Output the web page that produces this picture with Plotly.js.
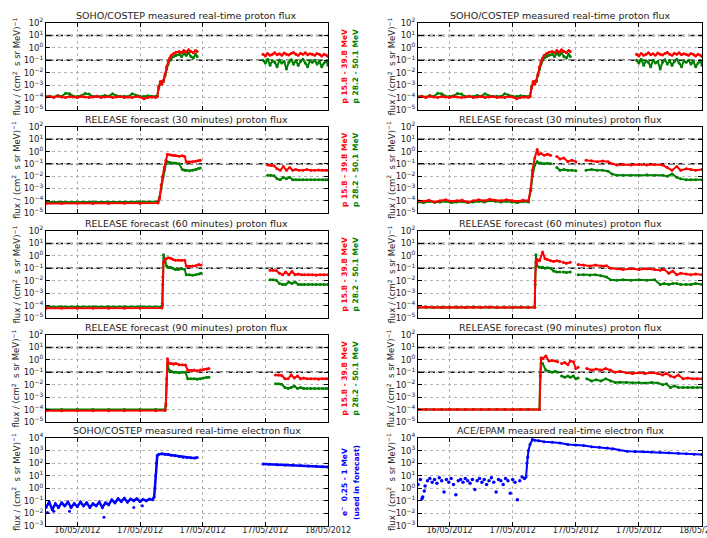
<!DOCTYPE html>
<html>
<head>
<meta charset="utf-8">
<script src="https://cdn.plot.ly/plotly-3.0.1.min.js"></script>
<style>html,body{margin:0;padding:0;background:#fff;}#chart{width:707px;height:538px;}</style>
</head>
<body>
<div id="chart"></div>
<script>
// ---------------- DATA (time in hours after 16/05/2012 12:00 UT) ----------------
const titles = [
  "SOHO/COSTEP measured real-time proton flux", "SOHO/COSTEP measured real-time proton flux",
  "RELEASE forecast (30 minutes) proton flux", "RELEASE forecast (30 minutes) proton flux",
  "RELEASE forecast (60 minutes) proton flux", "RELEASE forecast (60 minutes) proton flux",
  "RELEASE forecast (90 minutes) proton flux", "RELEASE forecast (90 minutes) proton flux",
  "SOHO/COSTEP measured real-time electron flux", "ACE/EPAM measured real-time electron flux"
];
const xTickVals = ["2012-05-16 16:00", "2012-05-17 00:00", "2012-05-17 08:00", "2012-05-17 16:00", "2012-05-18 00:00"];
const xTickText = ["16/05/2012", "17/05/2012", "17/05/2012", "17/05/2012", "18/05/2012"];
const xRange = ["2012-05-16 12:00", "2012-05-18 00:00"];
const protonTicks = [1e-5, 1e-4, 1e-3, 1e-2, 1e-1, 1, 10, 100];
const protonTickText = ["10<sup>−5</sup>","10<sup>−4</sup>","10<sup>−3</sup>","10<sup>−2</sup>","10<sup>−1</sup>","10<sup>0</sup>","10<sup>1</sup>","10<sup>2</sup>"];
const electronTicks = [1e-3, 1e-2, 1e-1, 1, 10, 100, 1000, 10000];
const electronTickText = ["10<sup>−3</sup>","10<sup>−2</sup>","10<sup>−1</sup>","10<sup>0</sup>","10<sup>1</sup>","10<sup>2</sup>","10<sup>3</sup>","10<sup>4</sup>"];
const thresholds = [10, 0.1];
const redLabel = "p 15.8 - 39.8 MeV";
const greenLabel = "p 28.2 - 50.1 MeV";
const blueLabel1 = "e<sup>−</sup>  0.25 - 1 MeV";
const blueLabel2 = "(used in forecast)";

// SOHO/COSTEP measured protons
const sohoPT = [0,0.5,1,1.5,2,2.5,3,3.5,4,4.5,5,5.5,6,6.5,7,7.5,8,8.5,9,9.5,10,10.5,11,11.5,12,12.5,13,13.5,14,
  14.2,14.4,14.6,14.8,15.0,15.2,15.4,15.6,15.8,16.0,16.3,16.6,17.0,17.3,17.6,17.9,18.2,18.5,18.8,19.1,19.3,
  23,
  27.7,28.0,28.3,28.6,28.9,29.2,29.5,29.8,30.1,30.4,30.7,31.0,31.3,31.6,31.9,32.2,32.5,32.8,33.1,33.4,33.7,34.0,34.3,34.6,34.9,35.2,35.5,35.8,36.0];
const sohoRed = [1.1e-4,1.2e-4,1.0e-4,1.3e-4,1.1e-4,1.0e-4,1.2e-4,1.1e-4,1.0e-4,1.2e-4,1.1e-4,1.0e-4,1.1e-4,1.3e-4,1.0e-4,1.1e-4,1.2e-4,1.0e-4,1.1e-4,1.2e-4,1.0e-4,1.1e-4,1.0e-4,1.2e-4,1.1e-4,0.8e-4,1.0e-4,1.1e-4,1.0e-4,
  1.2e-4,6e-4,2e-3,1.2e-3,2.5e-3,8e-3,0.03,0.08,0.15,0.25,0.35,0.45,0.5,0.4,0.6,0.45,0.7,0.5,0.4,0.6,0.5,
  null,
  0.3,0.22,0.35,0.25,0.3,0.4,0.28,0.33,0.25,0.38,0.3,0.27,0.35,0.42,0.3,0.25,0.36,0.3,0.4,0.28,0.33,0.3,0.25,0.35,0.3,0.22,0.3,0.26,0.2];
const sohoGreen = [1.2e-4,1.3e-4,1.1e-4,1.5e-4,1.2e-4,2.2e-4,2.0e-4,1.3e-4,1.2e-4,1.4e-4,2.1e-4,1.9e-4,1.2e-4,1.3e-4,1.2e-4,1.5e-4,1.3e-4,2.0e-4,1.4e-4,1.2e-4,1.3e-4,1.2e-4,2.0e-4,1.5e-4,1.3e-4,1.2e-4,1.4e-4,1.3e-4,1.2e-4,
  1.3e-4,8e-4,1.5e-3,2e-3,2e-3,6e-3,0.02,0.05,0.1,0.15,0.2,0.25,0.3,0.2,0.35,0.25,0.4,0.2,0.15,0.3,0.2,
  null,
  0.1,0.06,0.12,0.04,0.09,0.07,0.03,0.1,0.06,0.08,0.02,0.07,0.11,0.05,0.09,0.04,0.08,0.12,0.06,0.03,0.09,0.07,0.1,0.05,0.08,0.03,0.06,0.09,0.04];

// RELEASE 30 min, left
const rel30LT = [0,2,4,6,8,10,12,14.3,
  14.5,14.7,14.9,15.1,15.3,15.5,15.8,16.1,16.4,16.6,17.0,17.4,17.7,17.9,18.3,18.7,19.1,19.4,19.7,
  24,
  28.3,28.7,29.1,29.5,29.9,30.3,30.7,31.1,31.5,31.9,32.3,32.8,33.3,33.8,34.3,34.8,35.3,35.7,36.0];
const rel30LRed = [6e-5,6e-5,6.2e-5,6e-5,6e-5,6.1e-5,6e-5,6.5e-5,
  1.5e-4,2e-3,1e-2,0.05,0.2,0.6,0.55,0.5,0.48,0.45,0.42,0.45,0.4,0.15,0.14,0.15,0.16,0.18,0.2,
  null,
  0.08,0.075,0.07,0.04,0.03,0.06,0.03,0.05,0.03,0.035,0.03,0.03,0.035,0.03,0.03,0.032,0.03,0.03,0.03];
const rel30LGreen = [8e-5,7.8e-5,8e-5,8.2e-5,8e-5,8e-5,8.3e-5,8.5e-5,
  2e-4,1e-3,8e-3,0.03,0.1,0.15,0.13,0.12,0.12,0.11,0.1,0.035,0.03,0.03,0.028,0.03,0.035,0.04,0.045,
  null,
  0.012,0.012,0.011,0.006,0.005,0.008,0.006,0.008,0.005,0.005,0.005,0.005,0.005,0.005,0.005,0.005,0.005,0.005,0.005];

// RELEASE 30 min, right
const rel30RT = [0,0.7,1.4,2.1,2.8,3.5,4.2,4.9,5.6,6.3,7.0,7.7,8.4,9.1,9.8,10.5,11.2,11.9,12.6,13.3,14.0,
  14.3,14.5,14.8,15.1,15.3,15.6,16.0,16.4,16.8,
  17.2,
  17.6,18.0,18.5,19.0,19.5,20.0,
  20.7,
  21.3,22.0,22.7,23.4,24.1,24.6,25.2,26.0,27.0,28.0,29.0,30.0,31.0,31.6,32.2,32.8,33.3,34.0,34.6,35.2,36.0];
const rel30RRed = [1e-4,9e-5,1.1e-4,8e-5,1e-4,1.2e-4,9e-5,1e-4,1.1e-4,8e-5,1e-4,1.2e-4,1e-4,1.3e-4,1.1e-4,1e-4,1.2e-4,1e-4,9e-5,1.1e-4,1e-4,
  1e-3,0.03,0.3,1.5,0.6,0.7,0.5,0.6,0.5,
  null,
  0.4,0.25,0.3,0.15,0.2,0.15,
  null,
  0.2,0.18,0.15,0.17,0.15,0.1,0.08,0.09,0.08,0.09,0.08,0.09,0.08,0.05,0.03,0.06,0.03,0.04,0.035,0.03,0.035];
const rel30RGreen = [8e-5,7e-5,8.5e-5,7.5e-5,8e-5,9e-5,7e-5,8e-5,8.5e-5,7e-5,8e-5,9e-5,8e-5,1e-4,9e-5,8e-5,9e-5,8e-5,7e-5,8.5e-5,8e-5,
  7e-4,0.01,0.08,0.15,0.12,0.12,0.1,0.11,0.1,
  null,
  0.05,0.03,0.035,0.03,0.03,0.028,
  null,
  0.03,0.035,0.03,0.03,0.025,0.015,0.012,0.012,0.012,0.012,0.013,0.012,0.012,0.01,0.015,0.008,0.006,0.005,0.005,0.005,0.005];

// RELEASE 60 min, left
const rel60LT = [0,2,4,6,8,10,12,14.8,
  14.85,14.9,15.0,15.2,15.4,15.6,15.9,16.2,16.5,16.9,17.3,17.7,17.9,18.3,18.7,19.1,19.5,19.8,
  24,
  28.6,29.0,29.4,29.8,30.2,30.6,31.0,31.4,31.8,32.2,32.6,33.0,33.5,34.0,34.5,35.0,35.5,36.0];
const rel60LRed = [6e-5,6.1e-5,6e-5,6e-5,6.2e-5,6e-5,6e-5,6.3e-5,
  1.5e-4,0.02,0.3,0.5,0.6,0.7,0.65,0.5,0.45,0.45,0.42,0.45,0.15,0.14,0.15,0.16,0.2,0.18,
  null,
  0.07,0.07,0.065,0.04,0.03,0.05,0.03,0.055,0.03,0.035,0.03,0.03,0.03,0.03,0.028,0.03,0.03,0.03];
const rel60LGreen = [8e-5,8e-5,8.2e-5,8e-5,8e-5,8.1e-5,8e-5,8.5e-5,
  1e-4,5e-3,1.2,0.4,0.15,0.12,0.12,0.1,0.08,0.08,0.09,0.08,0.03,0.03,0.028,0.03,0.035,0.04,
  null,
  0.012,0.012,0.011,0.006,0.005,0.005,0.008,0.006,0.008,0.005,0.005,0.005,0.005,0.005,0.005,0.005,0.005,0.005];

// RELEASE 60 min, right
const rel60RT = [0,1,2,3,4,5,6,7,8,9,10,11,12,13,14,14.8,
  14.85,14.95,15.1,15.4,15.8,16.1,16.4,16.8,17.2,17.6,18.0,
  18.2,
  18.4,18.8,19.3,
  19.8,
  20.3,21.0,21.8,22.5,23.2,23.9,24.4,25.2,26.0,27.0,28.0,29.0,30.0,30.7,31.2,31.8,32.3,32.8,33.3,34.0,34.6,35.2,36.0];
const rel60RRed = [7e-5,7.5e-5,7e-5,7.2e-5,7e-5,7.5e-5,7e-5,7.3e-5,7e-5,7.5e-5,7e-5,7.2e-5,7e-5,7.5e-5,7e-5,7.2e-5,
  0.01,0.3,0.5,0.4,2,0.6,0.5,0.4,0.35,0.4,0.35,
  null,
  0.3,0.25,0.3,
  null,
  0.2,0.18,0.15,0.18,0.15,0.16,0.1,0.09,0.08,0.09,0.08,0.09,0.08,0.07,0.08,0.04,0.06,0.03,0.04,0.035,0.03,0.035,0.03];
const rel60RGreen = [7e-5,7.2e-5,7e-5,7.4e-5,7e-5,7.2e-5,7e-5,7.5e-5,7e-5,7.2e-5,7e-5,7.4e-5,7e-5,7.2e-5,7e-5,7.3e-5,
  0.005,1.2,0.15,0.12,0.12,0.1,0.11,0.1,0.06,0.05,0.05,
  null,
  0.05,0.045,0.05,
  null,
  0.03,0.03,0.028,0.03,0.025,0.02,0.012,0.011,0.012,0.011,0.012,0.011,0.012,0.005,0.006,0.005,0.006,0.006,0.005,0.005,0.005,0.006,0.005];

// RELEASE 90 min, left
const rel90LT = [0,2,4,6,8,10,12,14,15.2,
  15.3,15.4,15.5,15.7,16.0,16.3,16.6,17.0,17.4,17.8,18.1,18.5,18.9,19.3,19.7,20.1,20.5,20.8,
  25,
  29.3,29.7,30.1,30.5,30.9,31.3,31.7,32.1,32.5,32.9,33.3,33.8,34.3,34.8,35.3,35.7,36.0];
const rel90LRed = [8e-5,8e-5,8.1e-5,8e-5,8e-5,8.2e-5,8e-5,8e-5,8.3e-5,
  3e-4,0.01,1.2,0.5,0.5,0.45,0.5,0.4,0.4,0.38,0.15,0.14,0.15,0.13,0.15,0.16,0.18,0.2,
  null,
  0.06,0.06,0.055,0.03,0.03,0.06,0.035,0.05,0.03,0.035,0.03,0.03,0.03,0.028,0.03,0.03,0.03];
const rel90LGreen = [1e-4,1e-4,1.02e-4,1e-4,1e-4,1.01e-4,1e-4,1e-4,1.05e-4,
  2e-4,0.03,0.5,0.15,0.12,0.1,0.1,0.09,0.1,0.1,0.03,0.03,0.03,0.028,0.03,0.035,0.04,0.04,
  null,
  0.012,0.012,0.011,0.006,0.005,0.006,0.008,0.005,0.006,0.005,0.005,0.005,0.005,0.005,0.005,0.005,0.005];

// RELEASE 90 min, right
const rel90RT = [0,1,2,3,4,5,6,7,8,9,10,11,12,13,14,15.4,
  15.5,15.6,15.8,16.2,16.6,17.0,17.4,17.7,
  17.95,
  18.2,18.6,19.0,19.3,19.7,20.0,20.3,
  20.8,
  21.4,22.0,22.6,23.2,23.8,24.4,25.0,25.6,26.4,27.2,28.0,28.8,29.6,30.4,31.0,31.5,32.0,32.5,33.0,33.6,34.2,34.8,35.4,36.0];
const rel90RRed = [1e-4,1.05e-4,1e-4,1e-4,1.05e-4,1e-4,1e-4,1.05e-4,1e-4,1e-4,1.05e-4,1e-4,1e-4,1.05e-4,1e-4,1e-4,
  0.05,1.5,1.2,2,0.8,0.9,0.8,0.7,
  null,
  0.5,0.6,0.4,0.8,0.7,0.2,0.25,
  null,
  0.2,0.15,0.18,0.15,0.2,0.15,0.1,0.12,0.09,0.08,0.09,0.08,0.09,0.08,0.06,0.08,0.05,0.04,0.06,0.03,0.035,0.03,0.03,0.03];
const rel90RGreen = [1e-4,1e-4,1.03e-4,1e-4,1e-4,1.03e-4,1e-4,1e-4,1.03e-4,1e-4,1e-4,1.03e-4,1e-4,1e-4,1.03e-4,1e-4,
  0.1,0.5,0.5,0.15,0.12,0.1,0.12,0.1,
  null,
  0.05,0.04,0.05,0.04,0.05,0.03,0.035,
  null,
  0.03,0.02,0.025,0.02,0.03,0.02,0.015,0.016,0.015,0.014,0.015,0.014,0.015,0.014,0.01,0.012,0.006,0.008,0.006,0.006,0.006,0.006,0.006,0.006];

// SOHO/COSTEP measured electrons
const sohoET = [0,0.4,0.8,1.2,1.6,2.0,2.4,2.8,3.2,3.6,4.0,4.4,4.8,5.2,5.6,6.0,6.4,6.8,7.2,7.6,8.0,8.4,8.8,9.2,9.6,10.0,10.4,10.8,11.2,11.6,12.0,12.4,12.8,13.2,13.6,
  13.8,13.9,14.0,14.1,14.2,14.4,14.8,15.2,15.6,16.0,16.5,17.0,17.5,18.0,18.5,19.0,19.3,
  23,
  27.7,28.5,29.5,30.5,31.5,32.5,33.5,34.5,35.3,36.0];
const sohoE = [0.03,0.08,0.02,0.06,0.03,0.07,0.04,0.08,0.03,0.06,0.035,0.08,0.04,0.07,0.03,0.06,0.04,0.08,0.03,0.07,0.05,0.12,0.07,0.15,0.09,0.16,0.08,0.14,0.1,0.15,0.09,0.13,0.1,0.14,0.12,
  0.2,1,10,100,400,500,560,520,480,420,380,330,300,280,270,260,280,
  null,
  85,80,76,72,70,65,60,56,52,50];
const sohoEOutT = [0.2,1.0,3.0,7.4,11.2,12.3];
const sohoEOut = [0.012,0.015,0.015,0.005,0.03,0.04];

// ACE/EPAM measured electrons
const aceQT = [0,0.3,0.6,0.9,1.2,1.5,1.8,2.1,2.4,2.7,3.0,3.3,3.6,3.9,4.2,4.5,4.8,5.1,5.4,5.7,6.0,6.3,6.6,6.9,7.2,7.5,7.8,8.1,8.4,8.7,9.0,9.3,9.6,9.9,10.2,10.5,10.8,11.1,11.4,11.7,12.0,12.3,12.6,12.9,13.2,13.5,0.5,0.8];
const aceQ = [2,5,0.2,1.5,4,6,3,5,2.5,7,4,0.5,5,3,6,2,0.3,4,5,3,6,4,2.5,5,0.8,4,6,3,5,2,4,7,3,0.5,5,4,2,6,4,0.4,5,3,0.12,4,8,6,0.15,0.6];
const aceET = [13.7,13.8,13.9,14.0,14.2,14.5,14.8,15.3,16.0,17.0,18.0,19.0,20.0,21.0,22.0,23.0,24.0,24.7,25.5,26.5,27.5,28.6,29.6,30.7,31.8,33.0,34.0,35.0,36.0];
const aceE = [8,100,300,1000,3000,7500,6500,6000,5000,4500,4000,3000,2800,2500,2000,1800,1600,1400,1100,900,850,800,760,730,680,620,570,520,480];

// ---------------- BUILD ----------------
const T0 = Date.UTC(2012, 4, 16, 12, 0, 0);
function toDates(hours) {
  return hours.map(h => new Date(T0 + h * 3600e3).toISOString().replace('T', ' ').replace('Z', ''));
}
const W = 707, H = 538;
const rowTop = [23, 127, 231, 335, 438];
const rowBot = [110, 213, 318, 422, 526];
const colLeft = [46, 418];
const colRight = [328, 702];
const RED = '#ff0000', GREEN = '#008000', BLUE = '#0000ff';
const FONT = 'DejaVu Sans, Liberation Sans, sans-serif';
const TXT = '#222';

const panels = [
  {t: sohoPT, r: sohoRed, g: sohoGreen},
  {t: sohoPT, r: sohoRed, g: sohoGreen},
  {t: rel30LT, r: rel30LRed, g: rel30LGreen},
  {t: rel30RT, r: rel30RRed, g: rel30RGreen},
  {t: rel60LT, r: rel60LRed, g: rel60LGreen},
  {t: rel60RT, r: rel60RRed, g: rel60RGreen},
  {t: rel90LT, r: rel90LRed, g: rel90LGreen},
  {t: rel90RT, r: rel90RRed, g: rel90RGreen},
  {electron: 'soho'},
  {electron: 'ace'}
];

const data = [];
const layout = {
  width: W, height: H,
  margin: {l: 0, r: 0, t: 0, b: 0},
  paper_bgcolor: '#fff', plot_bgcolor: '#fff',
  showlegend: false,
  font: {family: FONT, color: TXT, size: 9},
  annotations: [], shapes: []
};

function lineTrace(x, y, color, n, mode, width) {
  return {
    type: 'scatter', mode: mode || 'lines+markers', x: toDates(x), y: y,
    xaxis: 'x' + n, yaxis: 'y' + n, connectgaps: false,
    line: {color: color, width: width || 2}, marker: {color: color, size: 3},
    hoverinfo: 'skip'
  };
}

panels.forEach((p, i) => {
  const n = i + 1;
  const row = Math.floor(i / 2), col = i % 2;
  const isE = !!p.electron;
  const xd = [colLeft[col] / W, colRight[col] / W];
  const yd = [1 - rowBot[row] / H, 1 - rowTop[row] / H];
  layout['xaxis' + (n === 1 ? '' : n)] = {
    domain: xd, anchor: 'y' + n, type: 'date', range: xRange,
    tickmode: 'array', tickvals: xTickVals, ticktext: xTickText,
    showticklabels: row === 4, tickfont: {size: 8, color: TXT, family: FONT},
    ticklabeloverflow: 'allow', ticklabelstandoff: -4,
    ticks: 'inside', ticklen: 4, tickcolor: '#000', mirror: 'allticks',
    showline: true, linecolor: '#000', linewidth: 1,
    showgrid: true, gridcolor: '#b4b4b4', griddash: 'dot', gridwidth: 1,
    zeroline: false, fixedrange: true
  };
  layout['yaxis' + (n === 1 ? '' : n)] = {
    domain: yd, anchor: 'x' + n, type: 'log',
    range: isE ? [-3, 4] : [-5, 2],
    tickmode: 'array', tickvals: isE ? electronTicks : protonTicks,
    ticktext: isE ? electronTickText : protonTickText,
    tickfont: {size: 8.5, color: TXT, family: FONT},
    ticks: 'inside', ticklen: 4, tickcolor: '#000', mirror: 'allticks',
    showline: true, linecolor: '#000', linewidth: 1,
    showgrid: true, gridcolor: '#b4b4b4', griddash: 'dot', gridwidth: 1,
    zeroline: false, fixedrange: true
  };
  layout.annotations.push({
    text: titles[i], xref: 'paper', yref: 'paper',
    x: (xd[0] + xd[1]) / 2, y: yd[1], xanchor: 'center', yanchor: 'bottom', yshift: 0,
    showarrow: false, font: {size: 9.5, color: TXT, family: FONT}
  });
  layout.annotations.push({
    text: 'flux / (cm<sup>2</sup>  s sr MeV)<sup>−1</sup>', xref: 'paper', yref: 'paper',
    x: (col === 0 ? 16 : 391) / W, y: (yd[0] + yd[1]) / 2, xanchor: 'center', yanchor: 'middle',
    textangle: -90, showarrow: false, font: {size: 8.5, color: TXT, family: FONT}
  });

  if (!isE) {
    thresholds.forEach(v => {
      layout.shapes.push({
        type: 'line', xref: 'x' + n + ' domain', x0: 0, x1: 1, yref: 'y' + n, y0: v, y1: v,
        line: {color: '#111', width: 1.5, dash: '7px,3px'}, layer: 'below'
      });
    });
    data.push(lineTrace(p.t, p.g, GREEN, n));
    data.push(lineTrace(p.t, p.r, RED, n));
    if (col === 0) {
      layout.annotations.push({
        text: '<b>' + redLabel + '</b>', xref: 'paper', yref: 'paper',
        x: 344 / W, y: (yd[0] + yd[1]) / 2, xanchor: 'center', yanchor: 'middle',
        textangle: -90, showarrow: false, font: {size: 7.5, color: RED, family: FONT}
      });
      layout.annotations.push({
        text: '<b>' + greenLabel + '</b>', xref: 'paper', yref: 'paper',
        x: 355 / W, y: (yd[0] + yd[1]) / 2, xanchor: 'center', yanchor: 'middle',
        textangle: -90, showarrow: false, font: {size: 7.5, color: GREEN, family: FONT}
      });
    }
  } else if (p.electron === 'soho') {
    data.push(lineTrace(sohoET, sohoE, BLUE, n, 'lines+markers', 2.5));
    data.push(lineTrace(sohoEOutT, sohoEOut, BLUE, n, 'markers'));
    layout.annotations.push({
      text: '<b>' + blueLabel1 + '</b>', xref: 'paper', yref: 'paper',
      x: 344 / W, y: (yd[0] + yd[1]) / 2, xanchor: 'center', yanchor: 'middle',
      textangle: -90, showarrow: false, font: {size: 7.5, color: BLUE, family: FONT}
    });
    layout.annotations.push({
      text: '<b>' + blueLabel2 + '</b>', xref: 'paper', yref: 'paper',
      x: 356 / W, y: (yd[0] + yd[1]) / 2, xanchor: 'center', yanchor: 'middle',
      textangle: -90, showarrow: false, font: {size: 7.5, color: BLUE, family: FONT}
    });
  } else {
    const q = lineTrace(aceQT, aceQ, BLUE, n, 'markers');
    q.marker.size = 3.5;
    data.push(q);
    data.push(lineTrace(aceET, aceE, BLUE, n));
  }
});

Plotly.newPlot('chart', data, layout, {staticPlot: true, displayModeBar: false});
</script>
</body>
</html>
